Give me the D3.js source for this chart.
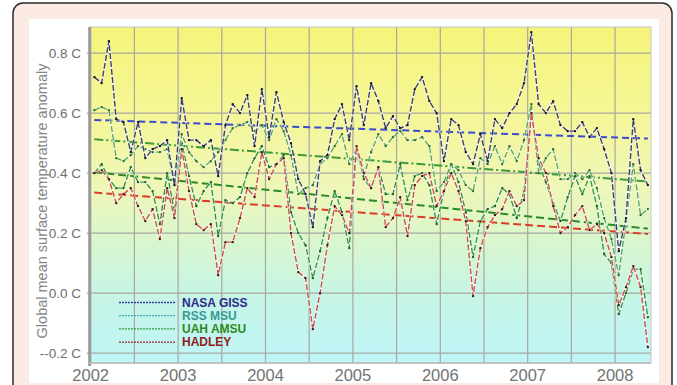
<!DOCTYPE html>
<html>
<head>
<meta charset="utf-8">
<script src="https://cdn.jsdelivr.net/npm/d3@7"></script>
<style>
  html, body { margin: 0; padding: 0; background: #ffffff; }
  svg { display: block; font-family: "Liberation Sans", Arial, sans-serif; }
</style>
</head>
<body>
<svg id="chart" width="677" height="385"></svg>
<script>
// Monthly global temperature anomalies (deg C), Jan 2002 .. May 2008
const startYear = 2002;
const nasaGiss = [
  0.72, 0.70, 0.84, 0.58, 0.57, 0.47, 0.57, 0.45, 0.48, 0.49, 0.51, 0.36,
  0.65, 0.51, 0.51, 0.49, 0.51, 0.39, 0.56, 0.63, 0.60, 0.66, 0.49, 0.68,
  0.52, 0.67, 0.57, 0.50, 0.38, 0.33, 0.22, 0.44, 0.46, 0.58, 0.63, 0.51,
  0.69, 0.56, 0.70, 0.64, 0.55, 0.59, 0.55, 0.56, 0.68, 0.72, 0.64, 0.60,
  0.44, 0.58, 0.56, 0.47, 0.43, 0.53, 0.44, 0.58, 0.55, 0.60, 0.63, 0.70,
  0.87, 0.63, 0.60, 0.64, 0.56, 0.54, 0.54, 0.57, 0.52, 0.55, 0.48, 0.40,
  0.14, 0.25, 0.58, 0.41, 0.36
];
const rssMsu = [
  0.61, 0.62, 0.61, 0.45, 0.44, 0.46, 0.49, 0.48, 0.47, 0.47, 0.48, 0.36,
  0.53, 0.47, 0.44, 0.42, 0.44, 0.47, 0.51, 0.55, 0.56, 0.57, 0.54, 0.56,
  0.51, 0.58, 0.54, 0.46, 0.33, 0.35, 0.36, 0.43, 0.45, 0.49, 0.53, 0.43,
  0.48, 0.39, 0.47, 0.53, 0.49, 0.52, 0.54, 0.51, 0.51, 0.52, 0.49, 0.34,
  0.37, 0.43, 0.41, 0.36, 0.34, 0.45, 0.43, 0.49, 0.43, 0.49, 0.44, 0.51,
  0.63, 0.40, 0.45, 0.48, 0.38, 0.38, 0.40, 0.38, 0.41, 0.35, 0.25, 0.18,
  0.06, 0.24, 0.43, 0.26, 0.28
];
const uahAmsu = [
  0.40, 0.43, 0.38, 0.35, 0.35, 0.42, 0.37, 0.37, 0.34, 0.23, 0.40, 0.27,
  0.50, 0.39, 0.29, 0.34, 0.37, 0.19, 0.31, 0.30, 0.32, 0.40, 0.45, 0.49,
  0.42, 0.43, 0.46, 0.27, 0.20, 0.16, 0.05, 0.14, 0.25, 0.34, 0.27, 0.15,
  0.48, 0.38, 0.35, 0.42, 0.33, 0.33, 0.43, 0.31, 0.39, 0.40, 0.36, 0.23,
  0.34, 0.43, 0.37, 0.27, 0.12, 0.24, 0.28, 0.29, 0.35, 0.33, 0.25, 0.34,
  0.60, 0.43, 0.37, 0.30, 0.24, 0.32, 0.39, 0.33, 0.39, 0.29, 0.13, 0.10,
  -0.07, 0.00, 0.08, 0.08, -0.08
];
const hadley = [
  0.40, 0.41, 0.38, 0.30, 0.33, 0.35, 0.29, 0.24, 0.28, 0.18, 0.35, 0.25,
  0.48, 0.34, 0.23, 0.21, 0.23, 0.06, 0.17, 0.17, 0.25, 0.35, 0.32, 0.47,
  0.38, 0.43, 0.45, 0.20, 0.07, 0.05, -0.12, 0.00, 0.16, 0.29, 0.26, 0.20,
  0.49, 0.40, 0.35, 0.42, 0.22, 0.25, 0.32, 0.19, 0.36, 0.39, 0.40, 0.29,
  0.34, 0.40, 0.34, 0.24, -0.01, 0.15, 0.22, 0.26, 0.28, 0.34, 0.29, 0.31,
  0.60, 0.45, 0.40, 0.29, 0.20, 0.22, 0.26, 0.29, 0.21, 0.23, 0.20, 0.12,
  -0.04, 0.02, 0.09, 0.02, -0.18
];

// Linear trend of each series: value at first and last month
const trendGiss = [0.577, 0.515];
const trendRss = [0.513, 0.372];
const trendUah = [0.403, 0.215];
const trendHadley = [0.335, 0.197];

const yTickValues = [0.8, 0.6, 0.4, 0.2, 0.0, -0.2];
const yTickLabels = ["0.8 C", "0.6 C", "0.4 C", "0.2 C", "0.0 C", "--0.2 C"];
const xYears = [2002, 2003, 2004, 2005, 2006, 2007, 2008];
const legendNames = ["NASA GISS", "RSS MSU", "UAH AMSU", "HADLEY"];
const yTitle = "Global mean surface temperature anomaly";

const svg = d3.select("#chart");

// frame
svg.append("rect").attr("x", 13).attr("y", 3).attr("width", 659).attr("height", 400)
  .attr("rx", 10).attr("fill", "#fcebe3").attr("stroke", "#2b2b2b").attr("stroke-width", 1.5);
svg.append("rect").attr("x", 29).attr("y", 19).attr("width", 630).attr("height", 364)
  .attr("fill", "#ffffff");

const plot = { left: 90.7, right: 651, top: 27, bottom: 363 };

const x = d3.scaleLinear().domain([2002, 2008.411]).range([plot.left, plot.right]);
const y = d3.scaleLinear().domain([-0.233, 0.887]).range([plot.bottom, plot.top]);
const monthTime = i => startYear + (i + 0.5) / 12;

// background gradient
const defs = svg.append("defs");
const grad = defs.append("linearGradient").attr("id", "bg")
  .attr("x1", 0).attr("y1", 0).attr("x2", 0).attr("y2", 1);
[[0, "#f4f47a"], [0.25, "#f6f696"], [0.48, "#eef7b8"], [0.66, "#d6f6d0"], [0.8, "#c6f5e6"], [1, "#bff5f8"]]
  .forEach(([o, c]) => grad.append("stop").attr("offset", o).attr("stop-color", c));
svg.append("rect").attr("x", plot.left).attr("y", plot.top)
  .attr("width", plot.right - plot.left).attr("height", plot.bottom - plot.top)
  .attr("fill", "url(#bg)");

// grid
const halfYears = d3.range(2002.5, 2008.01, 0.5);
svg.append("g").selectAll("line").data(halfYears).join("line")
  .attr("x1", d => x(d)).attr("x2", d => x(d))
  .attr("y1", plot.top).attr("y2", plot.bottom)
  .attr("stroke", "#a8a8a0").attr("stroke-width", 1.2);
svg.append("g").selectAll("line").data(yTickValues).join("line")
  .attr("x1", plot.left - 4).attr("x2", plot.right)
  .attr("y1", d => y(d)).attr("y2", d => y(d))
  .attr("stroke", "#a8a8a0").attr("stroke-width", 1.2);
// plot border
svg.append("rect").attr("x", plot.left).attr("y", plot.top)
  .attr("width", plot.right - plot.left).attr("height", plot.bottom - plot.top)
  .attr("fill", "none").attr("stroke", "#c4c4c4").attr("stroke-width", 1);
svg.append("line").attr("x1", plot.left - 1).attr("x2", plot.left - 1)
  .attr("y1", plot.top).attr("y2", plot.bottom + 3)
  .attr("stroke", "#9a9a9a").attr("stroke-width", 3);
svg.append("line").attr("x1", plot.left - 2).attr("x2", plot.right)
  .attr("y1", plot.bottom).attr("y2", plot.bottom)
  .attr("stroke", "#b8b8b8").attr("stroke-width", 1.5);

// y tick labels
svg.append("g").selectAll("text").data(yTickValues).join("text")
  .attr("x", 81).attr("y", d => y(d) + 5)
  .attr("text-anchor", "end").attr("font-size", 13.5)
  .attr("fill", "#6e6e6e")
  .text((d, i) => yTickLabels[i]);

// x year labels
svg.append("g").selectAll("text").data(xYears).join("text")
  .attr("x", d => x(d)).attr("y", 381)
  .attr("text-anchor", "middle").attr("font-size", 16.5)
  .attr("fill", "#737373")
  .text(d => d);

// y title
svg.append("text")
  .attr("transform", "translate(46.5,201) rotate(-90)")
  .attr("text-anchor", "middle").attr("font-size", 14.5)
  .attr("fill", "#858585")
  .text(yTitle);

// trend lines
const trends = [
  { v: trendUah, color: "#2a8a2a", dash: "8,4" },
  { v: trendRss, color: "#3c9a3c", dash: "9,3,2,3" },
  { v: trendHadley, color: "#dd3a28", dash: "8,4" },
  { v: trendGiss, color: "#3a4bd0", dash: "7,4" }
];
const lastIdx = nasaGiss.length - 1;
svg.append("g").selectAll("line").data(trends).join("line")
  .attr("x1", x(monthTime(0))).attr("x2", x(monthTime(lastIdx)))
  .attr("y1", d => y(d.v[0])).attr("y2", d => y(d.v[1]))
  .attr("stroke", d => d.color).attr("stroke-width", 2)
  .attr("stroke-dasharray", d => d.dash);

// data series
const series = [
  { v: uahAmsu, color: "#34963c", dot: "#1e5e22" },
  { v: rssMsu, color: "#5aa85a", dot: "#2e6a2e" },
  { v: hadley, color: "#c8504a", dot: "#3a1a1a" },
  { v: nasaGiss, color: "#3c4068", dot: "#15152a" }
];
const line = d3.line().x((d, i) => x(monthTime(i))).y(d => y(d));
series.forEach(s => {
  svg.append("path").attr("d", line(s.v)).attr("fill", "none")
    .attr("stroke", "#ffffff").attr("stroke-opacity", 0.75).attr("stroke-width", 2.2)
    .attr("stroke-linejoin", "round");
  svg.append("path").attr("d", line(s.v)).attr("fill", "none")
    .attr("stroke", s.color).attr("stroke-width", 1.4)
    .attr("stroke-dasharray", "6,2").attr("stroke-linejoin", "round");
  svg.append("g").selectAll("circle").data(s.v).join("circle")
    .attr("cx", (d, i) => x(monthTime(i))).attr("cy", d => y(d))
    .attr("r", 1.2).attr("fill", s.dot);
});

// legend
const legendLine = ["#3442a8", "#3fb0b0", "#2e9a2e", "#a02424"];
const legendText = ["#2b2b8a", "#359a96", "#2d8a1e", "#8e1c1c"];
const lg = svg.append("g");
legendNames.forEach((name, i) => {
  const ly = 302.5 + i * 13.2;
  lg.append("line").attr("x1", 119).attr("x2", 175).attr("y1", ly).attr("y2", ly)
    .attr("stroke", legendLine[i]).attr("stroke-width", 1.3).attr("stroke-dasharray", "2,1");
  lg.append("text").attr("x", 182).attr("y", ly + 4.3)
    .attr("font-size", 12).attr("font-weight", "bold")
    .attr("fill", legendText[i]).text(name);
});
</script>
</body>
</html>
